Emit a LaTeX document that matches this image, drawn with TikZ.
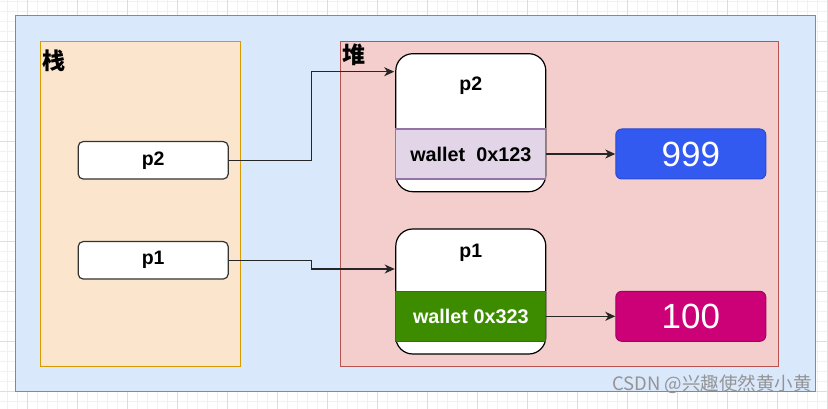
\documentclass[tikz,border=0pt]{standalone}
\usepackage{fontspec}
\setmainfont{Liberation Sans}
\newfontfamily\cjk{Noto Sans CJK SC}
\usetikzlibrary{arrows.meta,calc}
\definecolor{gridminor}{HTML}{F1F1F1}
\definecolor{gridmajor}{HTML}{DDDDDD}
\definecolor{outerfill}{HTML}{DAE8FC}
\definecolor{outerline}{HTML}{6C8EBF}
\definecolor{stackfill}{HTML}{FCE5CD}
\definecolor{stackline}{HTML}{D79B00}
\definecolor{heapfill}{HTML}{F4CECC}
\definecolor{heapline}{HTML}{B85450}
\definecolor{bandpurple}{HTML}{E1D5E7}
\definecolor{bandpurpleline}{HTML}{9673A6}
\definecolor{bandgreen}{HTML}{3D8C00}
\definecolor{bandgreenline}{HTML}{2D7600}
\definecolor{valblue}{HTML}{335AF0}
\definecolor{valblueline}{HTML}{2A4AD0}
\definecolor{valpink}{HTML}{CC0077}
\definecolor{valpinkline}{HTML}{A50060}
\begin{document}
\begin{tikzpicture}[x=1pt,y=-1pt,
  panel/.style={line width=1pt},
  sbox/.style={draw=black!80, fill=white, rounded corners=5pt, line width=1.2pt,
    minimum width=150pt, minimum height=37.5pt, inner sep=0pt,
    font=\fontsize{19.5}{21}\selectfont\bfseries},
  obj/.style={draw=black, fill=white, rounded corners=17pt, line width=1.2pt,
    minimum width=150pt, inner sep=0pt},
  band/.style={line width=1.2pt, minimum width=150pt, minimum height=50pt, inner sep=0pt,
    font=\fontsize{19.8}{21}\selectfont\bfseries},
  val/.style={rounded corners=6pt, line width=1pt, minimum width=150pt, minimum height=50pt,
    inner sep=0pt, text=white, font=\fontsize{35}{38}\selectfont},
  lbl/.style={font=\fontsize{19.5}{21}\selectfont\bfseries, inner sep=0pt},
  zh/.style={font=\cjk\bfseries\fontsize{23}{24}\selectfont, inner sep=0pt, anchor=north west},
  arr/.style={draw=black!85, line width=1.3pt, -{Stealth[length=10pt,width=9pt,inset=3pt]}}
  ]
\useasboundingbox (0,0) rectangle (828,409);
\fill[white] (0,0) rectangle (828,409);
% grid
\foreach \x in {7.7,17.7,...,828} \draw[gridminor, line width=0.9pt] (\x,0) -- (\x,409);
\foreach \y in {1.7,11.7,...,409} \draw[gridminor, line width=0.9pt] (0,\y) -- (828,\y);
\foreach \x in {27.7,77.7,...,828} \draw[gridmajor, line width=0.9pt] (\x,0) -- (\x,409);
\foreach \y in {41.7,91.7,...,409} \draw[gridmajor, line width=0.9pt] (0,\y) -- (828,\y);
% panels
\draw[panel, fill=outerfill, draw=outerline] (15.3,16) rectangle (815.5,391.7);
\draw[panel, fill=stackfill, draw=stackline] (40.3,41.7) rectangle (240.7,366);
\draw[panel, fill=heapfill, draw=heapline] (340.3,41.7) rectangle (778.3,366);
\node[zh] (zhan) at (42.5,49.5) {栈};
\node[zh] (dui) at (342.5,43.5) {堆};
% stack boxes
\node[sbox] (sp2) at (153.2,160.3) {p2};
\node[sbox] (sp1) at (153.2,260.3) {p1};
% heap objects
\node[obj, minimum height=138pt] (hp2) at (470.8,122.7) {};
\node[obj, minimum height=125pt] (hp1) at (470.8,291.5) {};
\node[lbl] (hp2t) at (470.8,86) {p2};
\node[lbl] (hp1t) at (470.8,253) {p1};
\node[band, fill=bandpurple, draw=bandpurpleline] (w2) at (470.8,154) {wallet\ \ 0x123};
\node[band, fill=bandgreen, draw=bandgreenline, text=white] (w1) at (470.8,316.3) {wallet 0x323};
% values
\node[val, fill=valblue, draw=valblueline] (v2) at (690.8,154) {999};
\node[val, fill=valpink, draw=valpinkline] (v1) at (690.8,316.3) {100};
% connectors
\coordinate (t2) at ($(hp2.west)+(-1,-51)$);
\coordinate (t1) at ($(hp1.west)+(-0.5,-22.5)$);
\draw[arr] (sp2.east) -- (311.7,160.3) |- (t2);
\draw[arr] (sp1.east) -- (311.7,260.3) -- (311.7,269) -- (t1);
\draw[arr] (w2.east) -- (v2.west);
\draw[arr] (w1.east) -- (v1.west);
% watermark
\node[anchor=south east, inner sep=0pt, text=black!42, font=\cjk\fontsize{18.5}{20}\selectfont] (wm) at (812,394) {CSDN @兴趣使然黄小黄};
\end{tikzpicture}
\end{document}
